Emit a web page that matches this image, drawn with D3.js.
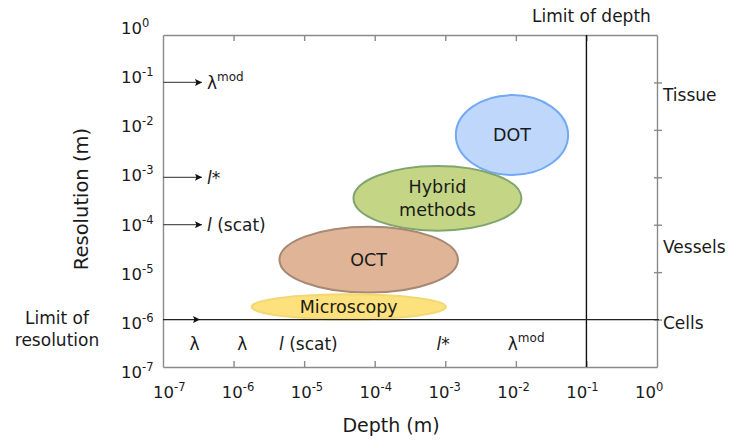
<!DOCTYPE html>
<html>
<head>
<meta charset="utf-8">
<script src="https://cdn.jsdelivr.net/npm/d3@7"></script>
<style>
  body { margin: 0; background: #fff; }
  text { font-family: "DejaVu Sans", Verdana, sans-serif; fill: #1a1a1a; }
</style>
</head>
<body>
<svg id="chart" width="730" height="441"></svg>
<script>
// decade ticks (10^-7 .. 10^0)
const exponents = [-7, -6, -5, -4, -3, -2, -1, 0];

// imaging methods: extent in depth (x) and resolution (y), metres
const methods = [["DOT"], ["Hybrid", "methods"], ["OCT"], ["Microscopy"]];
const depthMin = [1.41e-3, 5.0e-5, 4.47e-6, 1.8e-6];
const depthMax = [5.5e-2, 1.2e-2, 1.51e-3, 1.02e-3];
const resMin = [1.12e-3, 7.5e-5, 3.7e-6, 1.01e-6];
const resMax = [5.4e-2, 1.73e-3, 9.1e-5, 3.4e-6];
const fills = ["#bfd7fb", "#c4d585", "#e0b597", "#fde17c"];
const strokes = ["#72a9f4", "#80a56f", "#a68875", "#f3d774"];

// length scales marked on the resolution axis
const leftMarks = [["λ", "mod", ""], ["l", "", "*"], ["l", "", " (scat)"]];
const leftValues = [1e-1, 1e-3, 1e-4];

// length scales marked along depth, under the resolution limit
const bottomMarks = [["λ", "", ""], ["λ", "", ""], ["l", "", " (scat)"], ["l", "", "*"], ["λ", "mod", ""]];
const bottomValues = [2.8e-7, 1.33e-6, 1.15e-5, 0.93e-3, 1.4e-2];

// structure scales on the right side
const rightLabels = ["Tissue", "Vessels", "Cells"];
const rightValues = [5.5e-2, 3.4e-5, 8.6e-7];

const limitDepth = 1e-1;
const limitResolution = 1e-6;

const svg = d3.select("#chart");
const x = d3.scaleLog().domain([1e-7, 1]).range([163, 657]);
const y = d3.scaleLog().domain([1e-7, 1]).range([367, 35]);
// tick labels sit on a slightly wider spacing than the ticks
const xLab = d3.scaleLog().domain([1e-7, 1]).range([153, 635]);
const yLab = d3.scaleLog().domain([1e-7, 1]).range([378, 34]);

const vals = exponents.map(e => Math.pow(10, e));
const inner = vals.slice(1, -1);

svg.append("defs").append("marker")
  .attr("id", "arr").attr("viewBox", "0 0 10 10")
  .attr("refX", 10).attr("refY", 5)
  .attr("markerWidth", 10).attr("markerHeight", 7)
  .attr("markerUnits", "userSpaceOnUse")
  .attr("orient", "auto")
  .append("path").attr("d", "M0,0L10,5L0,10L2,5Z").attr("fill", "#111");

function styleAxis(g) {
  g.selectAll("path, line").attr("stroke", "#8a8a8a").attr("stroke-width", 1.4);
}

// frame with inward ticks
svg.append("g").attr("transform", `translate(0,${y(1e-7)})`)
  .call(d3.axisBottom(x).tickValues(inner).tickSizeInner(-6).tickSizeOuter(0).tickFormat(""))
  .call(styleAxis);
svg.append("g").attr("transform", `translate(0,${y(1)})`)
  .call(d3.axisTop(x).tickValues(inner).tickSizeInner(-6).tickSizeOuter(0).tickFormat(""))
  .call(styleAxis);
svg.append("g").attr("transform", `translate(${x(1e-7)},0)`)
  .call(d3.axisLeft(y).tickValues([]).tickSizeOuter(0))
  .call(styleAxis);
const right = svg.append("g").attr("transform", `translate(${x(1)},0)`)
  .call(d3.axisRight(y).tickValues(inner).tickSizeInner(5).tickSizeOuter(0).tickFormat(""))
  .call(styleAxis);
right.selectAll(".tick line").attr("x1", -3);
svg.selectAll(".domain").attr("fill", "none");

// tick labels 10^n
function powLabel(sel) {
  sel.append("tspan").text("10");
  sel.append("tspan").attr("dy", -7).attr("font-size", 11.5).text(d => Math.round(Math.log10(d)));
}
svg.append("g").selectAll("text").data(vals).join("text")
  .attr("x", d => xLab(d)).attr("y", 398).attr("font-size", 16.5)
  .call(powLabel);
svg.append("g").selectAll("text").data(vals).join("text")
  .attr("x", 121).attr("y", d => yLab(d)).attr("font-size", 16.5)
  .call(powLabel);

// axis titles
svg.append("text").attr("x", 391).attr("y", 432).attr("text-anchor", "middle")
  .attr("font-size", 19).text("Depth (m)");
svg.append("text").attr("transform", "translate(88,199) rotate(-90)")
  .attr("text-anchor", "middle").attr("font-size", 19.5).text("Resolution (m)");

// ellipses
const eg = svg.append("g").selectAll("g").data(methods).join("g");
eg.append("ellipse")
  .attr("cx", (d, i) => (x(depthMin[i]) + x(depthMax[i])) / 2)
  .attr("cy", (d, i) => (y(resMin[i]) + y(resMax[i])) / 2)
  .attr("rx", (d, i) => (x(depthMax[i]) - x(depthMin[i])) / 2)
  .attr("ry", (d, i) => (y(resMin[i]) - y(resMax[i])) / 2)
  .attr("fill", (d, i) => fills[i])
  .attr("stroke", (d, i) => strokes[i])
  .attr("stroke-width", 2);
eg.each(function (lines, i) {
  const cx = (x(depthMin[i]) + x(depthMax[i])) / 2;
  const cy = (y(resMin[i]) + y(resMax[i])) / 2;
  const t = d3.select(this).append("text")
    .attr("text-anchor", "middle").attr("font-size", 17.5);
  lines.forEach((l, j) => {
    t.append("tspan").attr("x", cx)
      .attr("y", cy + 6 + (j - (lines.length - 1) / 2) * 22.5)
      .text(l);
  });
});

// limit of depth
svg.append("line")
  .attr("x1", x(limitDepth)).attr("x2", x(limitDepth))
  .attr("y1", y(1)).attr("y2", y(1e-7))
  .attr("stroke", "#111").attr("stroke-width", 1.4);
svg.append("text").attr("x", x(limitDepth) + 5).attr("y", 21.5)
  .attr("text-anchor", "middle").attr("font-size", 17).text("Limit of depth");

// limit of resolution
svg.append("line")
  .attr("x1", x(1e-7)).attr("x2", x(1) + 2)
  .attr("y1", y(limitResolution)).attr("y2", y(limitResolution))
  .attr("stroke", "#222").attr("stroke-width", 1.3);
svg.append("line")
  .attr("x1", x(1e-7)).attr("x2", 200)
  .attr("y1", y(limitResolution)).attr("y2", y(limitResolution))
  .attr("stroke", "none").attr("marker-end", "url(#arr)");
const lr = svg.append("text").attr("text-anchor", "middle").attr("font-size", 17);
lr.append("tspan").attr("x", 57).attr("y", 324).text("Limit of");
lr.append("tspan").attr("x", 57).attr("y", 345.5).text("resolution");

function markText(sel) {
  sel.each(function (d) {
    const t = d3.select(this);
    t.append("tspan").attr("font-style", d[0] === "l" ? "italic" : null).text(d[0]);
    if (d[1]) t.append("tspan").attr("dy", -8).attr("font-size", 12).text(d[1]);
    if (d[2]) t.append("tspan").text(d[2]);
  });
}

// arrows from resolution axis
svg.append("g").selectAll("line").data(leftValues).join("line")
  .attr("x1", x(1e-7)).attr("x2", 202)
  .attr("y1", d => y(d)).attr("y2", d => y(d))
  .attr("stroke", "#555").attr("stroke-width", 1.2)
  .attr("marker-end", "url(#arr)");
svg.append("g").selectAll("text").data(leftMarks).join("text")
  .attr("x", 207).attr("y", (d, i) => y(leftValues[i]) + 6.5)
  .attr("font-size", 17)
  .call(markText);

// marks along depth
svg.append("g").selectAll("text").data(bottomMarks).join("text")
  .attr("x", (d, i) => x(bottomValues[i])).attr("y", 350)
  .attr("text-anchor", "middle").attr("font-size", 17)
  .call(markText);

// structure labels
svg.append("g").selectAll("text").data(rightLabels).join("text")
  .attr("x", 663).attr("y", (d, i) => y(rightValues[i]) + 6.5)
  .attr("font-size", 17).text(d => d);
</script>
</body>
</html>
